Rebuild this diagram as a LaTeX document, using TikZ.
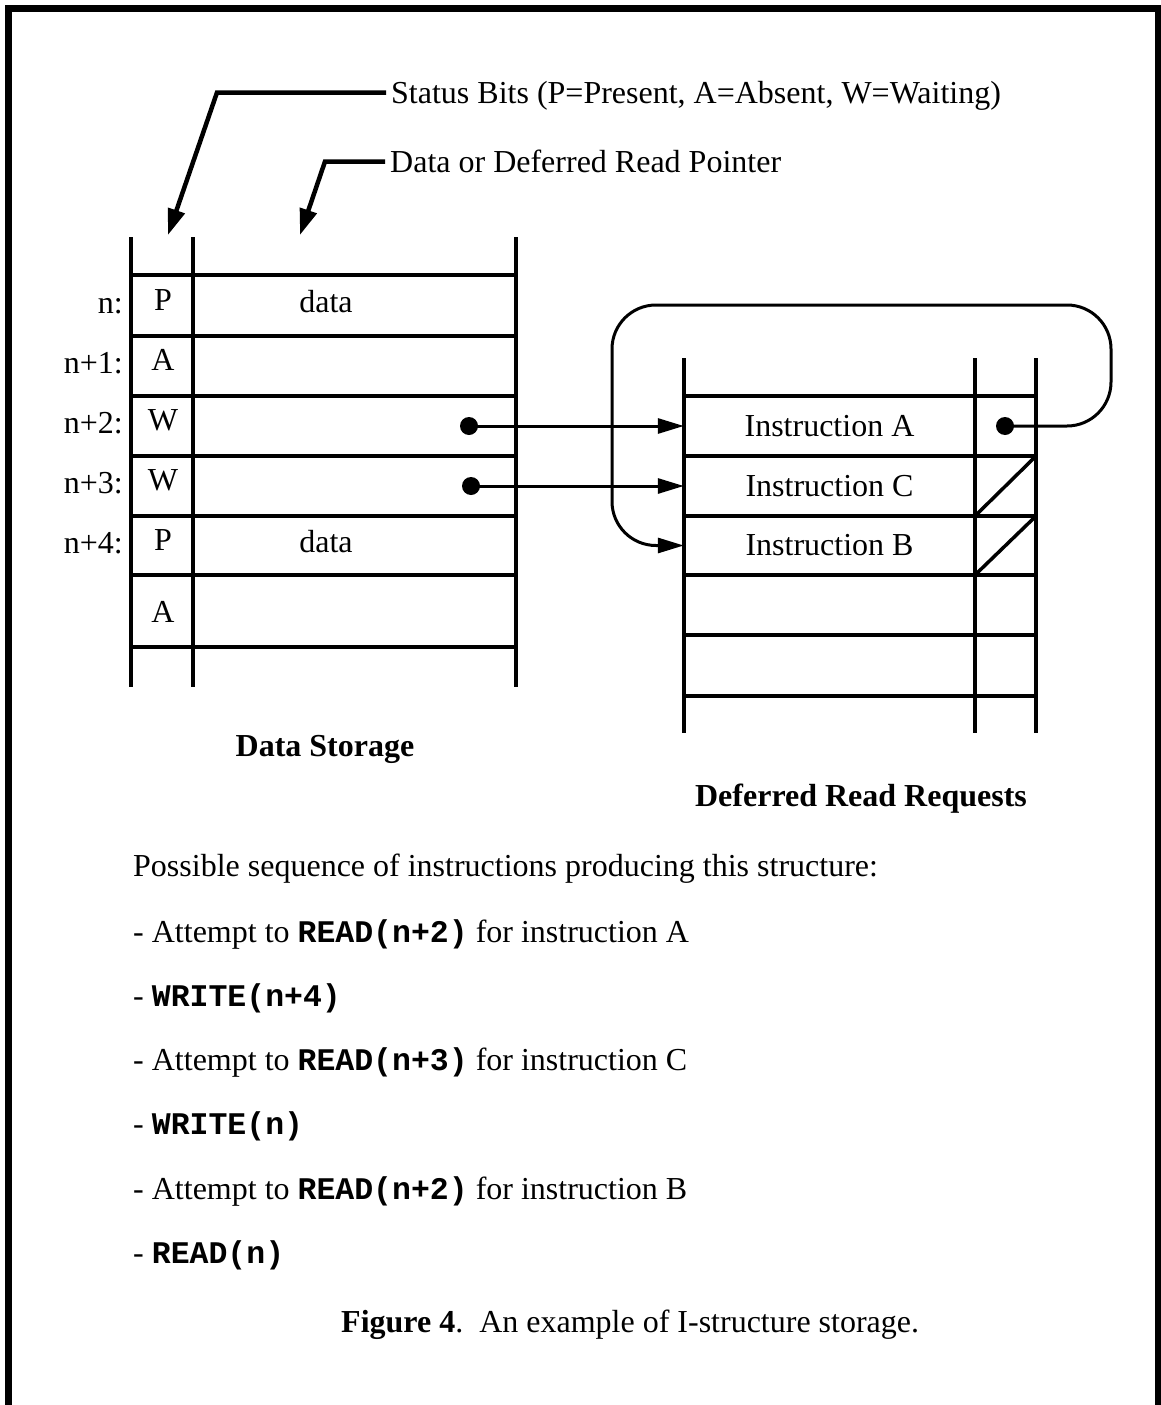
\documentclass[tikz,border=0pt]{standalone}
\usepackage{fontspec}
\setmainfont{Liberation Serif}
\setmonofont{Liberation Mono}
\usetikzlibrary{positioning, arrows.meta}

\newcommand{\instr}[1]{{\fontsize{31.5}{32}\selectfont\ttfamily\bfseries #1}}

\begin{document}
\begin{tikzpicture}[
  x=1pt, y=-1pt,
  font=\fontsize{32}{36}\selectfont,
  grid/.style={line width=3.5pt},
  lead/.style={line width=4.5pt, -{Triangle[length=26pt, width=17pt]}},
  ar/.style={line width=3pt, -{Triangle[length=26pt, width=15pt]}},
  lbl/.style={anchor=base west, inner xsep=5pt, text height=21pt, text depth=0pt},
  txt/.style={anchor=base west, inner sep=0pt},
  cell/.style={minimum width=291pt, minimum height=60pt, inner sep=0pt},
  title/.style={anchor=base, inner sep=0pt, font=\fontsize{32}{36}\selectfont\bfseries}
]
\useasboundingbox (0,0) rectangle (1161,1405);
\draw[line width=6.5pt] (8.5,1405) |- (1158,8.5) -- (1158,1405);

% data storage
\draw[grid] (131,237) -- (131,687) (193,237) -- (193,687) (516,237) -- (516,687);
\foreach \y in {275,336,396,456,516,575,647}
  \draw[grid] (131,\y) -- (516,\y);
\foreach \b/\lab/\st [count=\i] in {313/n:/P, 373/n+1:/A, 433/n+2:/W, 493/n+3:/W, 553/n+4:/P}
{
  \node[anchor=base east, inner sep=0pt] (row\i) at (123,\b) {\lab};
  \node[anchor=base, inner sep=0pt] (st\i) at (163,\b-3) {\st};
}
\node[anchor=base, inner sep=0pt] (st6) at (163,622) {A};
\node[anchor=base, inner sep=0pt] (val1) at (326,312) {data};
\node[anchor=base, inner sep=0pt] (val5) at (326,552) {data};

% deferred read requests
\draw[grid] (684,358) -- (684,733) (975,358) -- (975,733) (1036,358) -- (1036,733);
\foreach \y in {396,456,516,575,635,696}
  \draw[grid] (684,\y) -- (1036,\y);
\draw[grid] (975,516) -- (1036,456) (975,575) -- (1036,516);
\node[cell] (instA) at (829.5,426) {Instruction A};
\node[cell] (instC) at (829.5,486) {Instruction C};
\node[cell] (instB) at (829.5,545.5) {Instruction B};

% pointers
\coordinate (ptrA) at (469,426);
\coordinate (ptrC) at (471,486);
\coordinate (nextA) at (1005,426);
\foreach \p in {ptrA, ptrC, nextA}
  \fill (\p) circle (9);
\draw[ar] (ptrA) -- (instA.west);
\draw[ar] (ptrC) -- (instC.west);
\draw[ar, rounded corners=44pt] (nextA) -| (1111,305) -| (612,545.5) -- (instB.west);

% leaders
\node[lbl] (status) at (386,103) {Status Bits (P=Present, A=Absent, W=Waiting)};
\node[lbl] (pointer) at (385,172) {Data or Deferred Read Pointer};
\coordinate (statusTip) at (168,235);
\coordinate (pointerTip) at (300,235);
\draw[lead] (status.west) -- ++(-169,0) -- (statusTip);
\draw[lead] (pointer.west) -- ++(-60,0) -- (pointerTip);

\node[title] (dsName) at (325,756) {Data Storage};
\node[title] (drName) at (861,806) {Deferred Read Requests};

% sequence
\node[txt] (intro) at (133,876) {Possible sequence of instructions producing this structure:};
\node[txt] (s1) at (133,942) {- Attempt to \instr{READ(n+2)} for instruction A};
\node[txt] (s2) at (133,1006) {- \instr{WRITE(n+4)}};
\node[txt] (s3) at (133,1070) {- Attempt to \instr{READ(n+3)} for instruction C};
\node[txt] (s4) at (133,1134) {- \instr{WRITE(n)}};
\node[txt] (s5) at (133,1199) {- Attempt to \instr{READ(n+2)} for instruction B};
\node[txt] (s6) at (133,1263) {- \instr{READ(n)}};
\node[txt] (caption) at (341,1332) {\textbf{Figure 4}.\enspace An example of I-structure storage.};
\end{tikzpicture}
\end{document}
